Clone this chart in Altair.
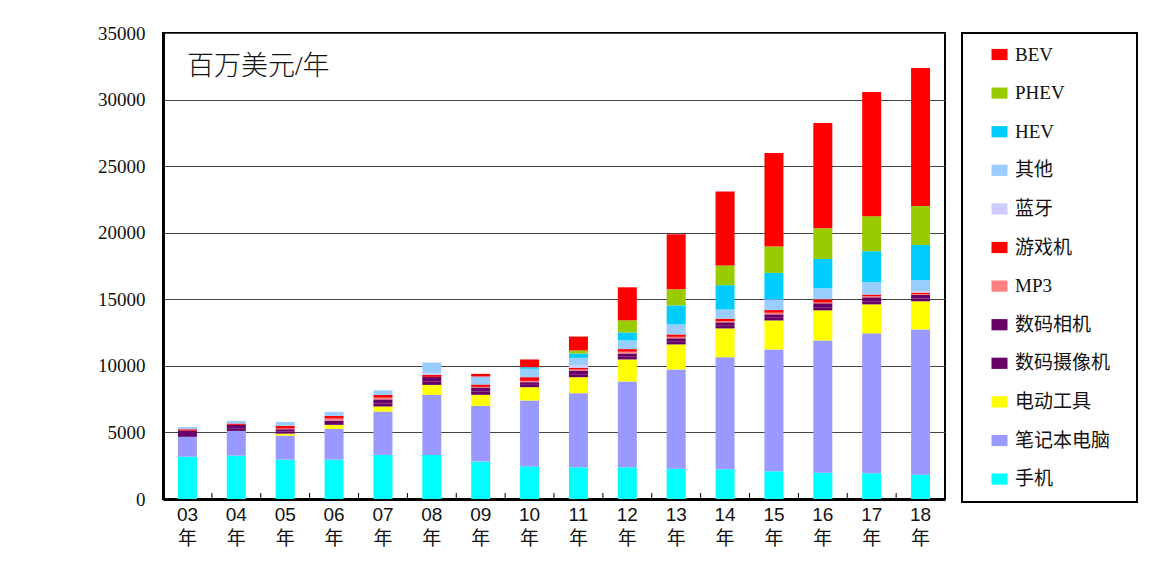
import altair as alt
import pandas as pd

years = ["03", "04", "05", "06", "07", "08", "09", "10", "11", "12", "13", "14", "15", "16", "17", "18"]

# stacking order: bottom -> top
series_stack = ["手机", "笔记本电脑", "电动工具", "数码摄像机", "数码相机", "MP3", "游戏机", "蓝牙", "其他", "HEV", "PHEV", "BEV"]

shouji      = [3180, 3260, 2960, 2960, 3310, 3310, 2810, 2450, 2380, 2380, 2280, 2230, 2080, 1980, 1930, 1830]
bijiben     = [1490, 1855, 1800, 2310, 3260, 4510, 4190, 4950, 5570, 6450, 7450, 8420, 9150, 9930, 10510, 10910]
diandong    = [0, 0, 150, 300, 380, 750, 825, 1000, 1200, 1650, 1880, 2160, 2180, 2260, 2180, 2110]
shexiangji  = [210, 200, 150, 140, 230, 270, 250, 170, 220, 200, 200, 200, 200, 230, 230, 210]
xiangji     = [260, 255, 180, 180, 300, 330, 300, 205, 280, 250, 260, 260, 260, 300, 300, 260]
mp3         = [0, 0, 50, 155, 130, 0, 50, 100, 80, 130, 110, 100, 120, 60, 80, 60]
youxiji     = [100, 100, 200, 200, 200, 150, 175, 275, 120, 200, 180, 170, 200, 240, 120, 120]
lanya       = [0, 0, 0, 0, 0, 150, 0, 0, 200, 0, 0, 0, 0, 0, 0, 100]
qita        = [160, 200, 300, 300, 350, 780, 600, 630, 550, 650, 750, 700, 810, 820, 930, 850]
hev         = [0, 0, 0, 0, 0, 0, 0, 120, 330, 600, 1430, 1820, 1980, 2210, 2330, 2630]
phev        = [0, 0, 0, 0, 0, 0, 0, 0, 230, 910, 1210, 1480, 1980, 2300, 2630, 2920]
bev         = [0, 0, 0, 0, 0, 0, 200, 580, 1040, 2480, 4140, 5560, 7020, 7910, 9330, 10380]

values = [shouji, bijiben, diandong, shexiangji, xiangji, mp3, youxiji, lanya, qita, hev, phev, bev]

legend_order = ["BEV", "PHEV", "HEV", "其他", "蓝牙", "游戏机", "MP3", "数码相机", "数码摄像机", "电动工具", "笔记本电脑", "手机"]
colors = ["#FF0000", "#99CC00", "#00CCFF", "#99CCFF", "#CCCCFF", "#FF0000", "#FF8080", "#660066", "#660066", "#FFFF00", "#9999FF", "#00FFFF"]

rows = []
for i, (name, vals) in enumerate(zip(series_stack, values)):
    for y, v in zip(years, vals):
        rows.append({"year": y, "series": name, "value": v, "idx": i})
df = pd.DataFrame(rows)

serif = "Liberation Serif, Noto Sans CJK SC"
sans = "Liberation Sans, Noto Sans CJK SC"

bars = alt.Chart(df).mark_bar(size=19).encode(
    x=alt.X("year:N", sort=years, title=None,
            scale=alt.Scale(paddingInner=0, paddingOuter=0),
            axis=alt.Axis(labelAngle=0, labelExpr="[datum.label, '年']", ticks=False,
                          domainColor="black", domainWidth=3, labelPadding=6,
                          labelFont=sans, labelFontSize=19, labelLineHeight=24,
                          labelColor="#111")),
    y=alt.Y("value:Q", stack="zero", title=None,
            scale=alt.Scale(domain=[0, 35000], nice=False),
            axis=alt.Axis(values=[0, 5000, 10000, 15000, 20000, 25000, 30000, 35000],
                          format="d",
                          ticks=False, domainColor="black", domainWidth=3,
                          grid=True, gridColor="#444", gridWidth=1,
                          labelFont=serif, labelFontSize=19, labelPadding=18,
                          labelColor="#111")),
    color=alt.Color("series:N", scale=alt.Scale(domain=legend_order, range=colors),
                    legend=alt.Legend(title=None, orient="none", legendX=799, legendY=0,
                                      strokeColor="black", fillColor="white",
                                      padding=12, symbolOffset=16, labelOffset=6,
                                      symbolType="M-1,-0.7H1V0.7H-1Z", symbolSize=256,
                                      symbolStrokeWidth=0, rowPadding=18.6,
                                      labelFont=serif, labelFontSize=19, labelColor="#111",
                                      labelExpr="datum.label + '\u2800'")),
    order=alt.Order("idx:Q", sort="ascending"),
)

tick_df = pd.DataFrame({"year": years})
ticks = alt.Chart(tick_df).mark_rule(color="black", strokeWidth=1).encode(
    x=alt.X("year:N", sort=years, bandPosition=0),
    y=alt.value(460), y2=alt.value(466),
)

unit_df = pd.DataFrame({"t": ["百万美元/年"]})
unit = alt.Chart(unit_df).mark_text(align="left", baseline="middle", fontSize=27,
                                    font=serif, color="#111", fontWeight=300).encode(
    text="t:N", x=alt.value(24), y=alt.value(34))

chart = alt.layer(bars, ticks, unit).properties(
    width=782, height=466,
    padding={"left": 163, "top": 33, "right": 217, "bottom": 71},
    autosize=alt.AutoSizeParams(type="none"),
).configure_view(stroke="black", strokeWidth=2).configure_legend(strokeWidth=2)

chart.save("out.html", embed_options={"renderer": "svg", "actions": False})
